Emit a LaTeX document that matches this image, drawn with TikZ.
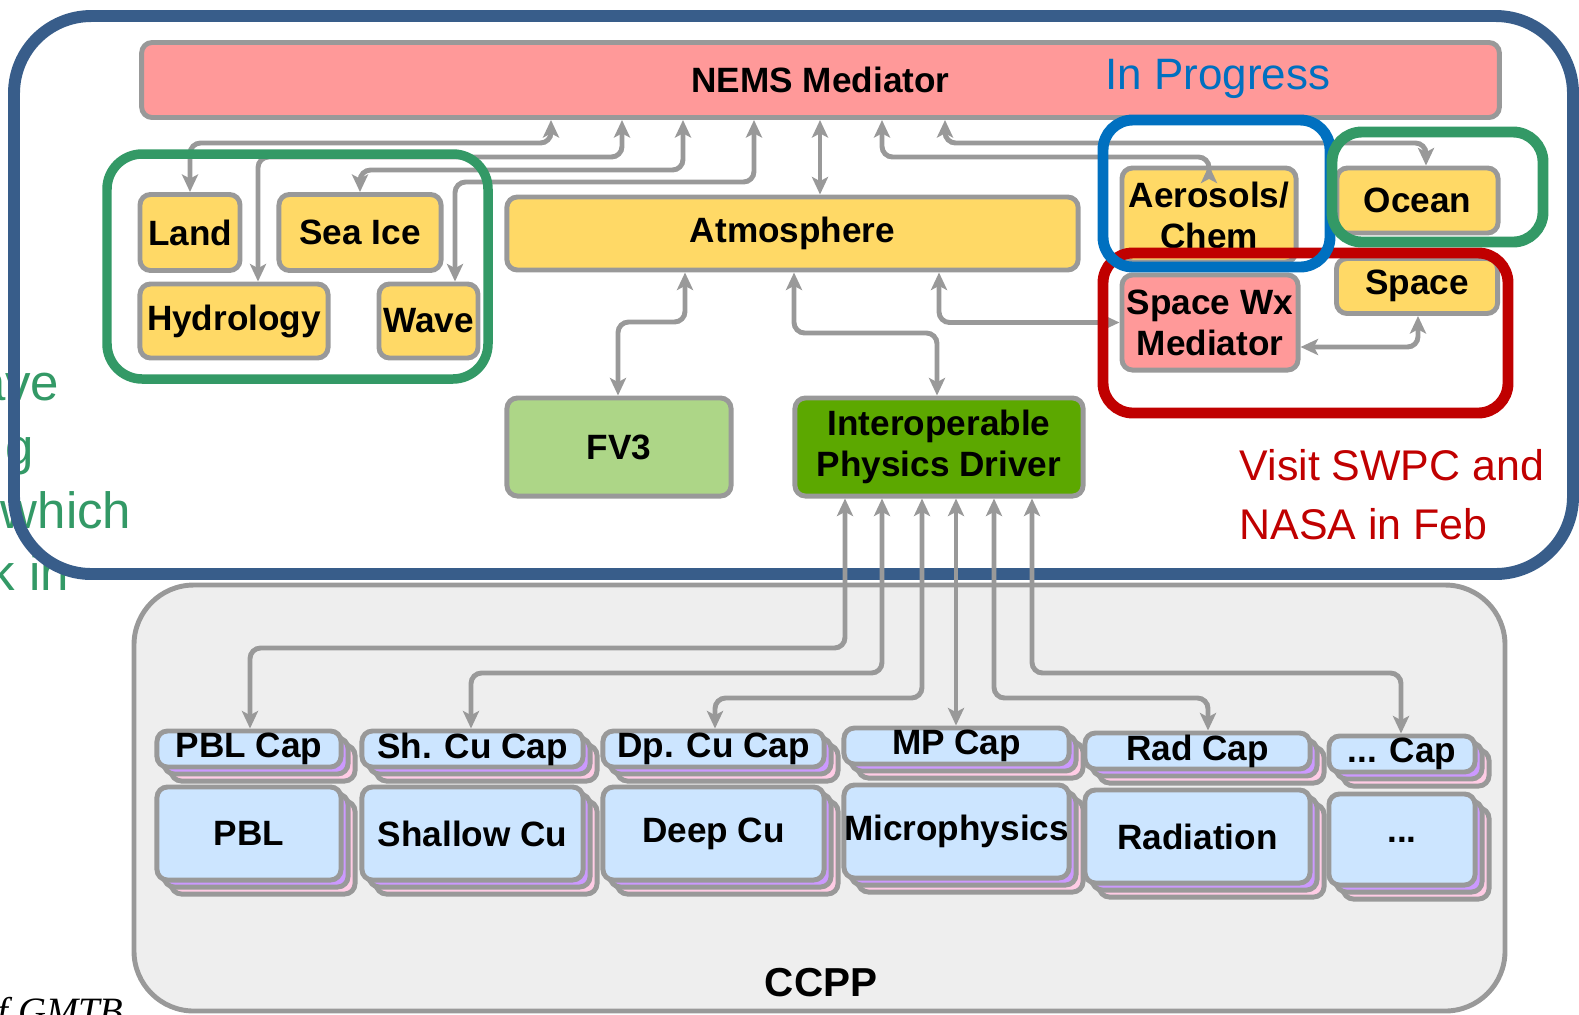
\documentclass[tikz,border=0pt]{standalone}
\usepackage{fontspec}
\setmainfont{Liberation Sans}
\newfontfamily\serifit{Liberation Serif}
\usetikzlibrary{arrows.meta,shadows}

\definecolor{framenavy}{RGB}{56,93,138}
\definecolor{framegreen}{RGB}{51,153,102}
\definecolor{frameblue}{RGB}{0,112,192}
\definecolor{framered}{RGB}{192,0,0}
\definecolor{edgegray}{RGB}{153,153,153}
\definecolor{medpink}{RGB}{255,153,153}
\definecolor{compyellow}{RGB}{255,217,102}
\definecolor{fvgreen}{RGB}{173,214,135}
\definecolor{ipdgreen}{RGB}{92,168,0}
\definecolor{ccppgray}{RGB}{238,238,238}
\definecolor{schemeblue}{RGB}{204,229,255}
\definecolor{layerpurple}{RGB}{204,153,255}
\definecolor{layerpink}{RGB}{255,204,229}

\tikzset{
  comp/.style={draw=edgegray, line width=1.4pt, rounded corners=3pt, inner sep=0pt,
    align=center, font=\fontsize{10}{11.7}\selectfont\bfseries},
  yellowcomp/.style={comp, fill=compyellow},
  pinkcomp/.style={comp, fill=medpink},
  stack/.style={comp, fill=schemeblue,
    general shadow={shadow xshift=0.14cm, shadow yshift=-0.14cm, fill=layerpink, draw=edgegray, line width=1.4pt},
    general shadow={shadow xshift=0.07cm, shadow yshift=-0.07cm, fill=layerpurple, draw=edgegray, line width=1.4pt}},
  link/.style={draw=edgegray, line width=1.4pt, rounded corners=3pt,
    >={Stealth[length=5pt,width=4.6pt,inset=1.2pt]}, <->},
  groupframe/.style={line width=3.1pt, rounded corners=8.5pt},
  note/.style={inner sep=0pt, text=framegreen, font=\fontsize{14.5}{18}\selectfont, anchor=base east},
}

\begin{document}
\begin{tikzpicture}[x=0.01cm, y=-0.01cm]
\useasboundingbox (0,0) rectangle (1579,1014);

% cut-off notes at the left edge
\node[note] (noteA) at (60,400) {ave};
\node[note] (noteB) at (35,464) {g};
\node[note] (noteC) at (132,528) {which};
\node[note] (noteD) at (70,590) {k in};
\node[inner sep=0pt, anchor=base west, font=\serifit\itshape\fontsize{11}{13}\selectfont] (gmtb) at (-3,1024) {f GMTB};

% NEMS frame and CCPP area
\draw[framenavy, line width=3.4pt, rounded corners=22pt] (14,16) rectangle (1573,574);
\filldraw[fill=ccppgray, draw=edgegray, line width=1.4pt, rounded corners=17pt] (134,585) rectangle (1505,1011);
\node[font=\fontsize{11.5}{13}\selectfont\bfseries] (ccpp) at (821,983) {CCPP};

% components
\node[pinkcomp, minimum width=13.57cm, minimum height=0.75cm] (nems) at (820.5,80) {NEMS Mediator};
\node[yellowcomp, minimum width=1.00cm, minimum height=0.76cm] (land) at (190,232.5) {Land};
\node[yellowcomp, minimum width=1.62cm, minimum height=0.76cm] (seaice) at (360,232.5) {Sea Ice};
\node[yellowcomp, minimum width=1.88cm, minimum height=0.74cm] (hydro) at (234,321) {Hydrology};
\node[yellowcomp, minimum width=0.99cm, minimum height=0.74cm] (wave) at (428.5,321) {Wave};
\node[yellowcomp, minimum width=5.71cm, minimum height=0.73cm] (atmos) at (792.5,233.5) {Atmosphere};
\node[yellowcomp, minimum width=1.74cm, minimum height=0.94cm] (aero) at (1209,215) {Aerosols/\\Chem};
\node[yellowcomp, minimum width=1.61cm, minimum height=0.65cm] (ocean) at (1417.5,200.5) {Ocean};
\node[yellowcomp, minimum width=1.61cm, minimum height=0.55cm] (space) at (1417,286) {Space};
\node[pinkcomp, minimum width=1.76cm, minimum height=0.95cm] (spacewx) at (1210,322.5) {Space Wx\\Mediator};
\node[comp, fill=fvgreen, minimum width=2.24cm, minimum height=0.98cm] (fv3) at (619,447) {FV3};
\node[comp, fill=ipdgreen, minimum width=2.88cm, minimum height=0.98cm] (ipd) at (939,447) {Interoperable\\Physics Driver};

% physics caps and schemes
\node[stack, minimum width=1.84cm, minimum height=0.36cm] (pblcap) at (249,749) {PBL Cap};
\node[stack, minimum width=2.21cm, minimum height=0.36cm] (shcap) at (472.5,749) {Sh. Cu Cap};
\node[stack, minimum width=2.21cm, minimum height=0.36cm] (dpcap) at (713.5,749) {Dp. Cu Cap};
\node[stack, minimum width=2.25cm, minimum height=0.36cm] (mpcap) at (956.5,746) {MP Cap};
\node[stack, minimum width=2.25cm, minimum height=0.36cm] (radcap) at (1197.5,751) {Rad Cap};
\node[stack, minimum width=1.46cm, minimum height=0.36cm] (etccap) at (1402,754) {... Cap};
\node[stack, minimum width=1.84cm, minimum height=0.93cm] (pbl) at (249,833.5) {PBL};
\node[stack, minimum width=2.21cm, minimum height=0.93cm] (shallow) at (472.5,833.5) {Shallow Cu};
\node[stack, minimum width=2.21cm, minimum height=0.93cm] (deep) at (713.5,833.5) {Deep Cu};
\node[stack, minimum width=2.25cm, minimum height=0.93cm] (micro) at (956.5,831.5) {Microphysics};
\node[stack, minimum width=2.25cm, minimum height=0.93cm] (rad) at (1197.5,836.5) {Radiation};
\node[stack, minimum width=1.46cm, minimum height=0.91cm] (etc) at (1402,839.5) {...};

% links to the mediator
\draw[link] (land.north) |- (551,143) -- (551,0 |- nems.south);
\draw[link] (258,0 |- hydro.north) |- (622,157) -- (622,0 |- nems.south);
\draw[link] (seaice.north) |- (683,170) -- (683,0 |- nems.south);
\draw[link] (455,0 |- wave.north) |- (754,182) -- (754,0 |- nems.south);
\draw[link] (820,0 |- atmos.north) -- (820,0 |- nems.south);
\draw[link] (aero.north) |- (882,157) -- (882,0 |- nems.south);
\draw[link] (1426,0 |- ocean.north) |- (945,143) -- (945,0 |- nems.south);

% links below the atmosphere
\draw[link] (618,0 |- fv3.north) |- (685,322) -- (685,0 |- atmos.south);
\draw[link] (794,0 |- atmos.south) |- (937,333) -- (937,0 |- ipd.north);
\draw[link] (939,0 |- atmos.south) |- (spacewx.west);
\draw[link] (spacewx.east |- 0,347) -| (1418,0 |- space.south);

% driver to caps
\draw[link] (845,0 |- ipd.south) |- (250,648) -- (250,0 |- pblcap.north);
\draw[link] (882,0 |- ipd.south) |- (471,673) -- (471,0 |- shcap.north);
\draw[link] (922,0 |- ipd.south) |- (715,698) -- (715,0 |- dpcap.north);
\draw[link] (956,0 |- ipd.south) -- (956,0 |- mpcap.north);
\draw[link] (994,0 |- ipd.south) |- (1208,698) -- (1208,0 |- radcap.north);
\draw[link] (1032,0 |- ipd.south) |- (1401,673) -- (1401,0 |- etccap.north);

% highlight frames
\draw[framegreen, groupframe, line width=2.7pt, rounded corners=10pt] (107,154) rectangle (488,379);
\draw[framered, groupframe] (1103,253) rectangle (1508,413);
\draw[frameblue, groupframe] (1103,120) rectangle (1330,267);
\draw[framegreen, groupframe] (1332,132) rectangle (1543,242);

\node[inner sep=0pt, anchor=base, text=frameblue, font=\fontsize{12.5}{15}\selectfont] (progress) at (1218,89) {In Progress};
\node[inner sep=0pt, anchor=base west, text=framered, font=\fontsize{12.2}{15}\selectfont] (visitA) at (1239,480) {Visit SWPC and};
\node[inner sep=0pt, anchor=base west, text=framered, font=\fontsize{12.2}{15}\selectfont] (visitB) at (1239,539) {NASA in Feb};
\end{tikzpicture}
\end{document}
